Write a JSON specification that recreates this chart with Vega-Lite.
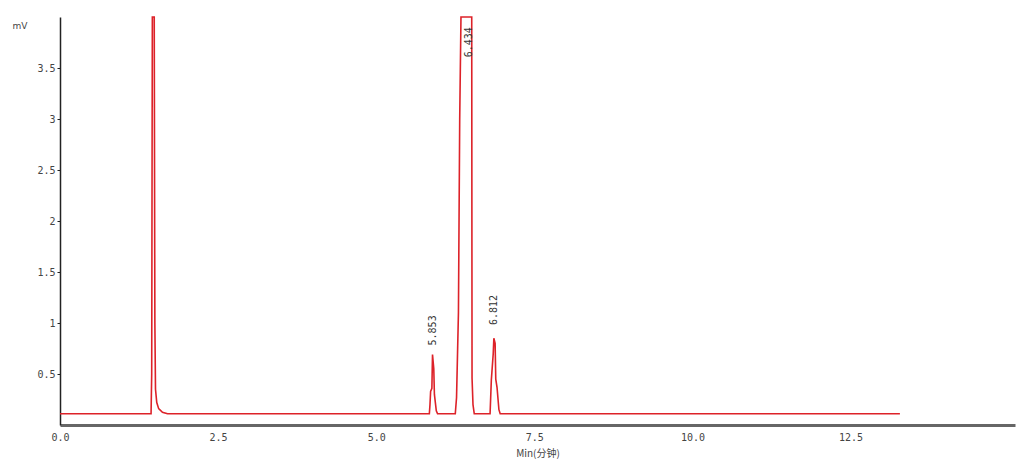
{
  "$schema": "https://vega.github.io/schema/vega-lite/v6.json",
  "width": 955,
  "height": 408,
  "autosize": "none",
  "padding": {"left": 60, "top": 17, "right": 17, "bottom": 46},
  "background": "white",
  "config": {"view": {"stroke": null}},
  "datasets": {
    "trace": [
      {"t": 0, "v": 0.11}, {"t": 1.44, "v": 0.11}, {"t": 1.45, "v": 0.5}, {"t": 1.46, "v": 4.0},
      {"t": 1.49, "v": 4.0}, {"t": 1.5, "v": 1.0}, {"t": 1.51, "v": 0.35}, {"t": 1.53, "v": 0.22},
      {"t": 1.56, "v": 0.16}, {"t": 1.62, "v": 0.125}, {"t": 1.7, "v": 0.11},
      {"t": 5.84, "v": 0.11}, {"t": 5.85, "v": 0.2}, {"t": 5.86, "v": 0.33}, {"t": 5.88, "v": 0.36},
      {"t": 5.89, "v": 0.69}, {"t": 5.91, "v": 0.55}, {"t": 5.92, "v": 0.3}, {"t": 5.95, "v": 0.14},
      {"t": 5.97, "v": 0.11},
      {"t": 6.25, "v": 0.11}, {"t": 6.27, "v": 0.27}, {"t": 6.3, "v": 1.1}, {"t": 6.32, "v": 3.0},
      {"t": 6.34, "v": 4.0}, {"t": 6.51, "v": 4.0}, {"t": 6.515, "v": 0.46}, {"t": 6.53, "v": 0.2},
      {"t": 6.55, "v": 0.11},
      {"t": 6.8, "v": 0.11}, {"t": 6.82, "v": 0.44}, {"t": 6.85, "v": 0.7}, {"t": 6.86, "v": 0.85},
      {"t": 6.88, "v": 0.8}, {"t": 6.89, "v": 0.45}, {"t": 6.91, "v": 0.37}, {"t": 6.94, "v": 0.15},
      {"t": 6.96, "v": 0.11}, {"t": 13.28, "v": 0.11}
    ],
    "labels": [
      {"t": 5.89, "v": 0.78, "label": "5.853", "pos": "above"},
      {"t": 6.86, "v": 0.98, "label": "6.812", "pos": "above"},
      {"t": 6.46, "v": 3.9, "label": "6.434", "pos": "top"}
    ]
  },
  "layer": [
    {
      "data": {"name": "trace"},
      "mark": {"type": "line", "color": "#dd2229", "strokeWidth": 1.6, "interpolate": "linear"},
      "encoding": {
        "x": {
          "field": "t", "type": "quantitative",
          "scale": {"domain": [0, 15.1], "nice": false, "zero": false},
          "axis": {
            "values": [0, 2.5, 5, 7.5, 10, 12.5], "format": ".1f", "grid": false,
            "ticks": false, "domainColor": "#666666", "domainWidth": 3, "labelFlush": false,
            "labelFont": "DejaVu Sans Mono", "labelFontSize": 10, "labelColor": "#444444",
            "labelPadding": 7, "title": "Min(分钟)", "titleFont": "Noto Sans CJK SC",
            "titleFontSize": 10, "titleFontWeight": "normal", "titleColor": "#444444", "titlePadding": 6
          }
        },
        "y": {
          "field": "v", "type": "quantitative",
          "scale": {"domain": [0, 4], "nice": false},
          "axis": {
            "values": [0.5, 1, 1.5, 2, 2.5, 3, 3.5], "format": "~g", "grid": false,
            "ticks": true, "tickSize": 3, "tickColor": "#222222", "domainColor": "#222222",
            "domainWidth": 1.5, "labelFont": "DejaVu Sans Mono", "labelFontSize": 10,
            "labelColor": "#444444", "labelPadding": 2, "labelFlush": false,
            "title": "mV", "titleAngle": 0, "titleX": -48, "titleY": 8, "titleAlign": "left",
            "titleBaseline": "middle", "titleFont": "DejaVu Sans", "titleFontSize": 9,
            "titleFontWeight": "normal", "titleColor": "#444444"
          }
        }
      }
    },
    {
      "data": {"name": "labels"},
      "transform": [{"filter": "datum.pos == 'above'"}],
      "mark": {"type": "text", "angle": 270, "align": "left", "baseline": "middle",
        "font": "DejaVu Sans Mono", "fontSize": 10, "color": "#333333"},
      "encoding": {
        "x": {"field": "t", "type": "quantitative"},
        "y": {"field": "v", "type": "quantitative"},
        "text": {"field": "label"}
      }
    },
    {
      "data": {"name": "labels"},
      "transform": [{"filter": "datum.pos == 'top'"}],
      "mark": {"type": "text", "angle": 270, "align": "right", "baseline": "middle",
        "font": "DejaVu Sans Mono", "fontSize": 10, "color": "#333333"},
      "encoding": {
        "x": {"field": "t", "type": "quantitative"},
        "y": {"field": "v", "type": "quantitative"},
        "text": {"field": "label"}
      }
    }
  ]
}
